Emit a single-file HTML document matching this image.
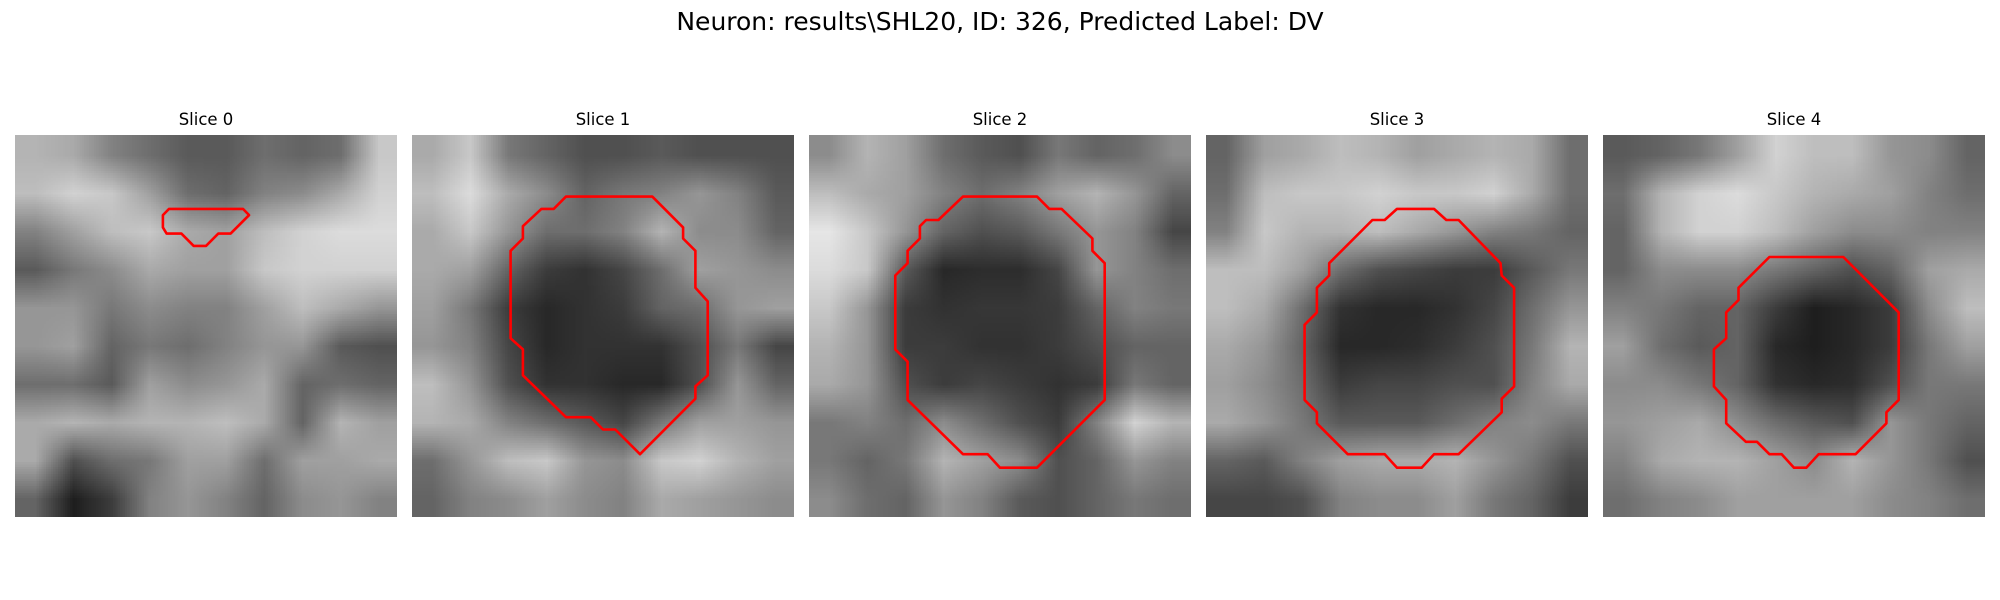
<!DOCTYPE html>
<html><head><meta charset="utf-8">
<style>
html,body{margin:0;padding:0;background:#fff;}
body{width:2000px;height:600px;position:relative;overflow:hidden;font-family:"DejaVu Sans","Liberation Sans",sans-serif;}
#title{position:absolute;left:0;width:2000px;top:7px;text-align:center;font-size:25px;color:#000;}
.ptitle{position:absolute;width:382px;text-align:center;font-size:16.5px;top:110px;color:#000;}
canvas{position:absolute;top:135px;width:382px;height:382px;}
svg.ov{position:absolute;top:135px;width:382px;height:382px;overflow:visible;}
</style></head>
<body>
<div id="title">Neuron: results\SHL20, ID: 326, Predicted Label: DV</div>
<div id="root"></div>
<script>
const sliceLabels = ["Slice 0","Slice 1","Slice 2","Slice 3","Slice 4"];
const gridSize = 31;
const img0 = [
[180,170,130,110,90,90,110,100,110,200],
[190,210,200,160,110,100,130,140,170,210],
[130,160,190,200,170,160,190,210,220,220],
[90,120,140,170,160,160,200,210,210,210],
[150,150,120,140,130,130,160,190,170,150],
[150,160,100,120,110,130,150,150,90,80],
[110,110,90,160,140,150,170,100,110,100],
[170,180,170,180,180,190,170,100,180,160],
[170,80,110,120,160,160,110,160,160,170],
[100,30,60,130,150,130,100,140,150,130]];
const img1 = [
[170,200,120,100,80,80,90,80,80,80],
[190,220,170,140,100,120,130,150,130,90],
[170,200,150,110,110,130,180,140,140,100],
[170,160,100,60,50,70,110,160,150,140],
[160,120,60,40,50,60,100,110,150,160],
[150,130,70,40,50,50,50,80,120,70],
[190,150,80,50,50,40,40,80,150,100],
[180,170,130,110,90,70,120,160,160,150],
[110,150,190,200,150,140,200,210,180,160],
[100,130,140,160,140,130,170,160,150,140]];
const img2 = [
[140,180,160,110,90,80,120,100,110,140],
[190,170,160,130,110,130,160,180,150,100],
[230,200,150,100,80,90,120,150,130,70],
[220,200,90,40,45,45,70,150,130,110],
[200,150,60,50,55,55,60,100,130,120],
[180,150,60,60,50,50,60,80,100,100],
[170,150,80,60,70,60,50,60,120,100],
[120,130,110,140,110,80,60,130,210,180],
[120,100,120,180,160,140,80,100,150,130],
[140,110,100,150,130,90,80,100,120,110]];
const img3 = [
[100,160,170,190,180,160,170,180,170,110],
[110,190,200,200,210,200,200,210,170,110],
[130,200,180,180,190,170,150,130,120,100],
[190,190,160,110,80,70,60,60,90,120],
[190,170,110,50,40,40,50,70,110,150],
[170,150,100,40,40,45,60,80,120,180],
[160,140,110,60,70,70,80,80,130,170],
[170,150,120,90,90,90,110,130,140,120],
[100,90,130,160,170,170,180,150,120,80],
[70,70,80,130,140,140,160,120,100,60]];
const img4 = [
[90,100,120,160,210,190,190,150,140,100],
[110,180,210,220,200,180,170,160,130,110],
[100,180,210,210,190,160,140,140,130,130],
[100,140,140,140,120,100,80,100,160,170],
[130,120,100,100,60,30,40,60,140,190],
[160,110,90,100,40,30,40,60,120,160],
[140,140,120,100,50,40,45,80,120,120],
[150,160,170,140,110,90,80,150,120,100],
[130,170,180,180,160,140,180,150,120,80],
[110,130,140,160,160,160,160,140,130,110]];
const contour0 = [[12.5,6],[18.5,6],[19,6.5],[17.5,8],[16.5,8],[15.5,9],[14.5,9],[13.5,8],[12.3,8],[12,7.5],[12,6.5]];
const contour1 = [[12.5,5],[19.5,5],[22,7.5],[22,8.4],[23,9.4],[23,12.4],[24,13.5],[24,19.5],[23,20.4],[23,21.4],[18.5,25.9],[16.5,23.9],[15.5,23.9],[14.5,22.9],[12.5,22.9],[9,19.5],[9,17.4],[8,16.5],[8,9.4],[9,8.4],[9,7.4],[10.5,6],[11.5,6]];
const contour2 = [[12.5,5],[18.5,5],[19.5,6],[20.5,6],[23,8.4],[23,9.4],[24,10.4],[24,21.5],[18.5,27],[15.5,27],[14.5,25.9],[12.5,25.9],[8,21.5],[8,18.4],[7,17.4],[7,11.4],[8,10.4],[8,9.4],[9,8.4],[9,7.4],[9.5,6.9],[10.5,6.9]];
const contour3 = [[15.5,6],[18.5,6],[19.5,6.9],[20.5,6.9],[23.9,10.4],[24,11.4],[25,12.4],[25,20.4],[24,21.4],[24,22.5],[20.5,25.9],[18.5,25.9],[17.5,27],[15.5,27],[14.5,25.9],[11.5,25.9],[9,23.4],[9,22.5],[8,21.5],[8,15.4],[9,14.4],[9,12.4],[10,11.4],[10,10.4],[13.5,6.9],[14.5,6.9]];
const contour4 = [[13.5,9.9],[19.5,9.9],[24,14.4],[24,21.5],[23,22.5],[23,23.4],[20.5,25.9],[17.5,25.9],[16.5,27],[15.5,27],[14.5,25.9],[13.5,25.9],[12.5,24.9],[11.6,24.9],[10,23.4],[10,21.5],[9,20.4],[9,17.4],[10,16.5],[10,14.4],[11,13.4],[11,12.4]];

const images = [img0,img1,img2,img3,img4];
const contours = [contour0,contour1,contour2,contour3,contour4];
const panelLeft = [15,412,809,1206,1603];
const panelSize = 382;
const NS = "http://www.w3.org/2000/svg";
const root = document.getElementById('root');
function sx(v){ return v/gridSize*panelSize; }

images.forEach((img,i)=>{
  const t = document.createElement('div');
  t.className='ptitle';
  t.style.left = panelLeft[i]+'px';
  t.textContent = sliceLabels[i];
  
  
  root.appendChild(t);

  const rows = img.length, cols = img[0].length;
  const c = document.createElement('canvas');
  c.width = cols; c.height = rows;
  c.style.left = panelLeft[i]+'px';
  
  
  const ctx = c.getContext('2d');
  for(let r=0;r<rows;r++){
    for(let k=0;k<cols;k++){
      const g = img[r][k];
      ctx.fillStyle = 'rgb('+g+','+g+','+g+')';
      ctx.fillRect(k,r,1,1);
    }
  }
  root.appendChild(c);

  const s = document.createElementNS(NS,'svg');
  s.setAttribute('class','ov');
  s.setAttribute('viewBox','0 0 '+panelSize+' '+panelSize);
  s.style.left = panelLeft[i]+'px';
  
  
  const p = document.createElementNS(NS,'polygon');
  p.setAttribute('points', contours[i].map(q=>sx(q[0]).toFixed(1)+','+sx(q[1]).toFixed(1)).join(' '));
  p.setAttribute('fill','none');
  p.setAttribute('stroke','#ff0000');
  p.setAttribute('stroke-width','2.6');
  p.setAttribute('stroke-linejoin','round');
  
  
  s.appendChild(p);
  root.appendChild(s);
});
</script>
</body></html>
